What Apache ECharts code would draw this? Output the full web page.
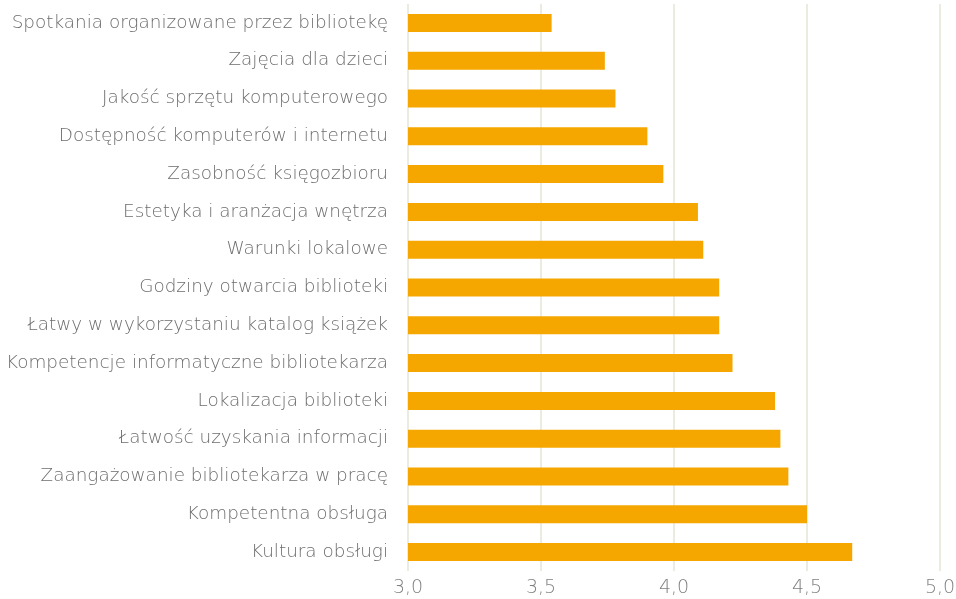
<!DOCTYPE html>
<html>
<head>
<meta charset="utf-8">
<script src="https://cdn.jsdelivr.net/npm/echarts@6/dist/echarts.min.js"></script>
<style>
  html, body { margin: 0; padding: 0; background: #fff; }
  #chart { width: 956px; height: 599px; }
</style>
</head>
<body>
<div id="chart"></div>
<script>
// kategorie, od góry do dołu
var categories = [
    'Spotkania organizowane przez bibliotekę',
    'Zajęcia dla dzieci',
    'Jakość sprzętu komputerowego',
    'Dostępność komputerów i internetu',
    'Zasobność księgozbioru',
    'Estetyka i aranżacja wnętrza',
    'Warunki lokalowe',
    'Godziny otwarcia biblioteki',
    'Łatwy w wykorzystaniu katalog książek',
    'Kompetencje informatyczne bibliotekarza',
    'Lokalizacja biblioteki',
    'Łatwość uzyskania informacji',
    'Zaangażowanie bibliotekarza w pracę',
    'Kompetentna obsługa',
    'Kultura obsługi'
];
// średnie oceny
var scores = [3.54, 3.74, 3.78, 3.90, 3.96, 4.09, 4.11, 4.17, 4.17, 4.22, 4.38, 4.40, 4.43, 4.50, 4.67];

var chart = echarts.init(document.getElementById('chart'));

var option = {
    animation: false,
    textStyle: { fontFamily: 'DejaVu Sans', fontWeight: 200 },
    grid: {
        left: 408,
        right: 16,
        top: 4,
        bottom: 28,
        outerBoundsMode: 'none'
    },
    xAxis: {
        type: 'value',
        min: 3,
        max: 5,
        interval: 0.5,
        axisLine: { show: false },
        axisTick: { show: false },
        splitLine: { lineStyle: { color: '#e6e4d6', width: 1.5 } },
        axisLabel: {
            color: '#808080',
            fontSize: 19,
            fontFamily: 'DejaVu Sans',
            fontWeight: 200,
            margin: 8,
            formatter: function (v) { return v.toFixed(1).replace('.', ','); }
        }
    },
    yAxis: {
        type: 'category',
        inverse: true,
        data: categories,
        axisLine: { show: false },
        axisTick: { show: false },
        axisLabel: {
            color: '#6e6e6e',
            fontSize: 18.4,
            fontFamily: 'DejaVu Sans',
            fontWeight: 200,
            margin: 20
        }
    },
    series: [
        {
            type: 'bar',
            data: scores,
            barWidth: 18,
            itemStyle: { color: '#f5a700' }
        }
    ]
};

chart.setOption(option);
</script>
</body>
</html>
